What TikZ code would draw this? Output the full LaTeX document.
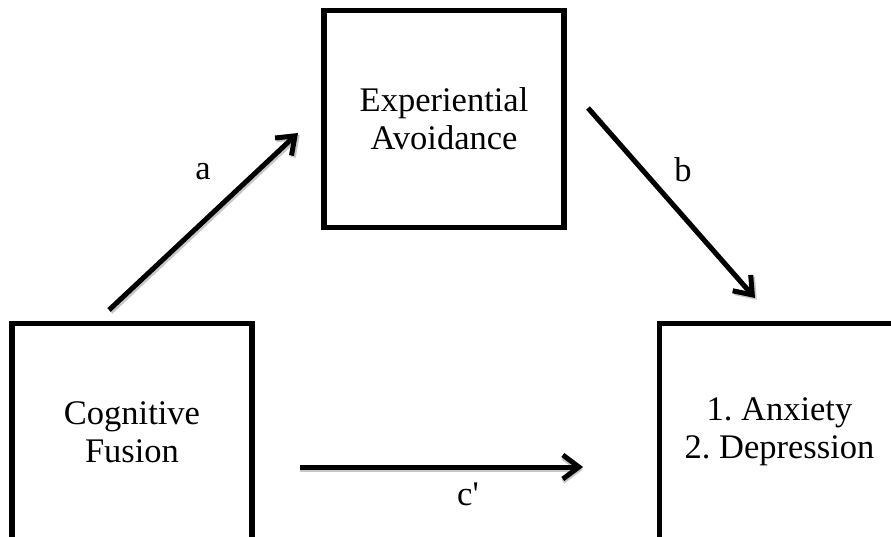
\documentclass[tikz,border=0pt]{standalone}
\usepackage{fontspec}
\setmainfont{Liberation Serif}
\usetikzlibrary{arrows.meta}
\begin{document}
\frenchspacing
\begin{tikzpicture}[x=1pt,y=-1pt,
  box/.style={draw, line width=5.5pt, minimum width=240pt, minimum height=217pt,
    inner sep=0pt, align=center, font=\fontsize{34.5}{38}\selectfont},
  lbl/.style={font=\fontsize{34.5}{38}\selectfont, inner sep=0pt},
  conn/.style={line width=5pt, -{Straight Barb[length=16pt,width=24pt]}},
  shade/.style={conn, draw=black!22}]
  \useasboundingbox (0,0) rectangle (891,537);
  \clip (0,0) rectangle (891,537);

  % the three variables
  \node[box] (ea) at (444,119) {Experiential\\Avoidance};
  \node[box] (cf) at (132,432) {Cognitive\\Fusion};
  \node[box] (ad) at (779.5,432) {1. Anxiety\\2. Depression};

  % arrow end points beside the boxes
  \coordinate (a1) at (109,310);
  \coordinate (a2) at (298,133);
  \coordinate (b1) at (588,108);
  \coordinate (b2) at (755,298);
  \coordinate (c1) at (300,467);
  \coordinate (c2) at (583,467);

  % soft drop shadows under the paths
  \draw[shade] ([shift={(1.8,1.8)}]a1) -- ([shift={(1.8,1.8)}]a2);
  \draw[shade] ([shift={(1.8,1.8)}]b1) -- ([shift={(1.8,1.8)}]b2);
  \draw[shade] ([shift={(0,2.5)}]c1) -- ([shift={(0,2.5)}]c2);

  % paths
  \draw[conn] (a1) -- (a2);
  \draw[conn] (b1) -- (b2);
  \draw[conn] (c1) -- (c2);

  % path labels
  \node[lbl] (la) at (203,172) {a};
  \node[lbl] (lb) at (683,170) {b};
  \node[lbl] (lc) at (468,494) {c\textquotesingle};
\end{tikzpicture}
\end{document}
